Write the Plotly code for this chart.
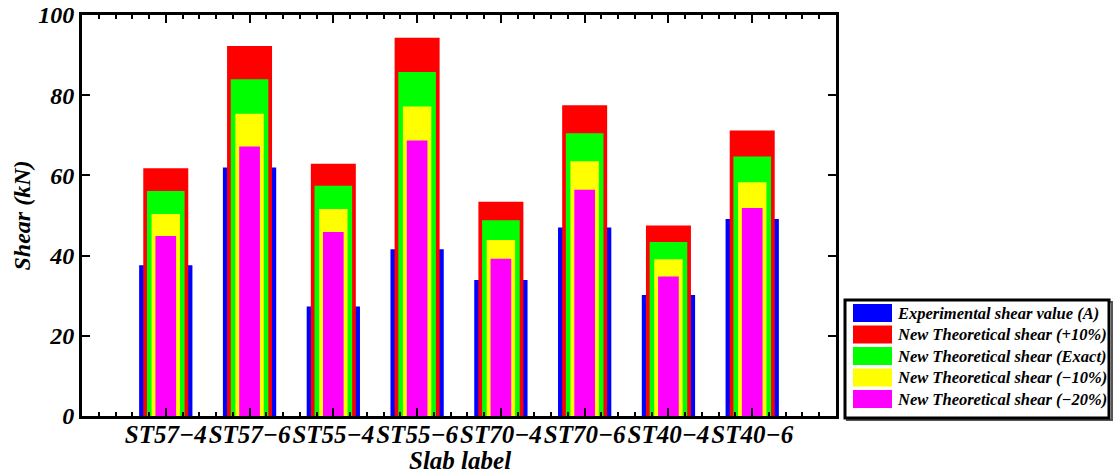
import plotly.graph_objects as go

categories = ["ST57−4", "ST57−6", "ST55−4", "ST55−6", "ST70−4", "ST70−6", "ST40−4", "ST40−6"]
experimental = [37.6, 62.0, 27.3, 41.6, 33.9, 47.0, 30.2, 49.1]
theory_plus10 = [61.8, 92.3, 62.9, 94.3, 53.4, 77.5, 47.5, 71.2]
theory_exact = [56.1, 84.0, 57.4, 85.8, 48.8, 70.5, 43.4, 64.7]
theory_minus10 = [50.4, 75.4, 51.6, 77.2, 43.9, 63.5, 39.1, 58.3]
theory_minus20 = [44.9, 67.2, 45.9, 68.7, 39.2, 56.4, 34.8, 51.9]
series_names = [
    "Experimental shear value (A)",
    "New Theoretical shear (+10%)",
    "New Theoretical shear (Exact)",
    "New Theoretical shear (−10%)",
    "New Theoretical shear (−20%)",
]
y_ticks = [0, 20, 40, 60, 80, 100]

x_pos = list(range(1, len(categories) + 1))
series = [experimental, theory_plus10, theory_exact, theory_minus10, theory_minus20]
colors = ["#0000ff", "#ff0000", "#00ff00", "#ffff00", "#ff00ff"]
widths = [0.636, 0.537, 0.449, 0.339, 0.247]

FONT = "Liberation Serif"


def bi(s):
    return "<b><i>" + s + "</i></b>"


fig = go.Figure()
for name, vals, c, w in zip(series_names, series, colors, widths):
    fig.add_trace(go.Bar(x=x_pos, y=vals, name=name, width=w,
                         marker=dict(color=c, line=dict(width=0)),
                         showlegend=False))

fig.update_layout(
    width=1117, height=474,
    margin=dict(l=82, r=281, t=15, b=58, autoexpand=False),
    barmode="overlay",
    plot_bgcolor="white", paper_bgcolor="white",
    font=dict(family=FONT, color="black"),
)
tick_common = dict(ticks="inside", tickwidth=2, tickcolor="black",
                   showgrid=False, zeroline=False, automargin=False)
fig.update_layout(
    xaxis=dict(
        range=[0, 9], tickmode="array", tickvals=x_pos, ticktext=[bi(c) for c in categories],
        tickangle=0, ticklen=8, ticklabelstandoff=-6,
        minor=dict(dtick=0.2, tick0=0, ticks="inside", ticklen=4, tickwidth=2, tickcolor="black"),
        showline=True, linewidth=3, linecolor="black", mirror=True,
        tickfont=dict(family=FONT, size=25, color="black"),
        **tick_common,
    ),
    xaxis2=dict(
        range=[0, 9], overlaying="x", side="top", matches="x",
        tickmode="array", tickvals=x_pos, showticklabels=False, ticklen=8,
        minor=dict(dtick=0.2, tick0=0, ticks="inside", ticklen=4, tickwidth=2, tickcolor="black"),
        showline=False,
        **tick_common,
    ),
    yaxis=dict(
        range=[0, 100], tickmode="array", tickvals=y_ticks, ticktext=[bi(str(v)) for v in y_ticks],
        ticklen=8,
        showline=True, linewidth=3, linecolor="black", mirror="ticks",
        tickfont=dict(family=FONT, size=24, color="black"),
        **tick_common,
    ),
)
fig.add_trace(go.Scatter(x=[x_pos[0]], y=[0], xaxis="x2", mode="markers",
                         marker=dict(opacity=0), showlegend=False, hoverinfo="skip"))

fig.add_annotation(text=bi("Shear (kN)"), xref="paper", yref="paper", x=-0.0796, y=0.5,
                   textangle=-90, showarrow=False, xanchor="center", yanchor="middle",
                   font=dict(family=FONT, size=24, color="black"))
fig.add_annotation(text=bi("Slab label"), xref="paper", yref="paper", x=0.501, y=-0.11,
                   showarrow=False, xanchor="center", yanchor="middle",
                   font=dict(family=FONT, size=25, color="black"))


def px_x(p):
    return (p - 82) / 754.0


def px_y(p):
    return (416 - p) / 401.0


fig.add_shape(type="rect", xref="paper", yref="paper",
              x0=px_x(847), x1=px_x(1112), y0=px_y(420), y1=px_y(302),
              line=dict(color="#555555", width=2), fillcolor="rgba(0,0,0,0)")
fig.add_shape(type="rect", xref="paper", yref="paper",
              x0=px_x(845), x1=px_x(1109), y0=px_y(418), y1=px_y(300),
              line=dict(color="black", width=3), fillcolor="white")
row_centers = [313, 334.5, 356, 377.5, 399]
for name, c, rc in zip(series_names, colors, row_centers):
    fig.add_shape(type="rect", xref="paper", yref="paper",
                  x0=px_x(853), x1=px_x(892), y0=px_y(rc + 9), y1=px_y(rc - 9),
                  line=dict(width=0), fillcolor=c)
    fig.add_annotation(text=bi(name), xref="paper", yref="paper", x=px_x(895), y=px_y(rc),
                       showarrow=False, xanchor="left", yanchor="middle",
                       font=dict(family=FONT, size=16.5, color="black"))

fig.write_html("out.html", config={"displayModeBar": False},
               post_script="document.body.style.margin='0';document.body.style.overflow='hidden';")
